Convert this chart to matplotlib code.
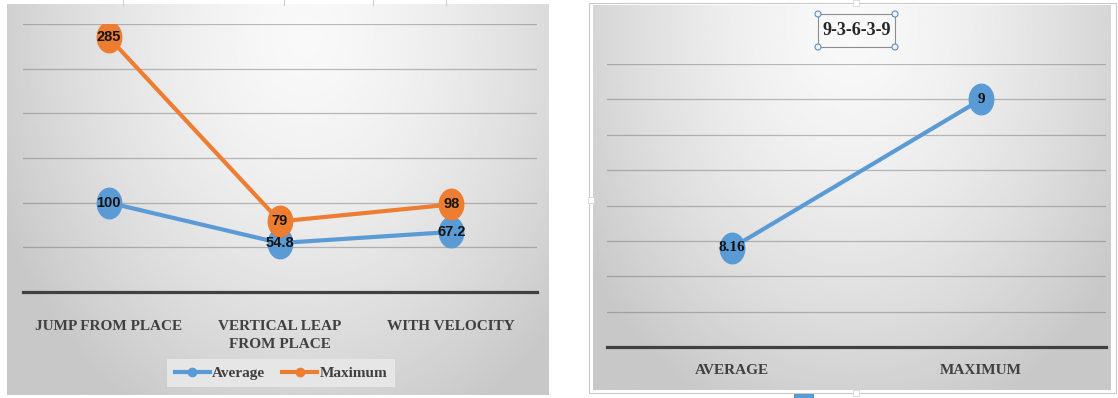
import numpy as np
import matplotlib
matplotlib.use('Agg')
import matplotlib.pyplot as plt
from matplotlib.path import Path
from matplotlib.lines import Line2D
from matplotlib.patches import Rectangle, Circle

# jump test results (left) and score summary (right)
categories = ['JUMP FROM PLACE', 'VERTICAL LEAP\nFROM PLACE', 'WITH VELOCITY']
average = [100, 54.8, 67.2]
maximum = [285, 79, 98]

score_categories = ['AVERAGE', 'MAXIMUM']
score_values = [8.16, 9]
score_title = '9-3-6-3-9'

BLUE = '#5b9bd5'
ORANGE = '#ed7d31'
DARK = '#404040'

W, H = 1118, 398
fig = plt.figure(figsize=(W / 100, H / 100), dpi=100)
fig.patch.set_facecolor('white')


def box(x0, y0, x1, y1):
    # pixel box (top-left origin) -> figure fraction rect
    return [x0 / W, 1 - y1 / H, (x1 - x0) / W, (y1 - y0) / H]


def gradient_panel(rect, cx=0.55, cy=0.08):
    bg = fig.add_axes(rect, zorder=0)
    yy, xx = np.mgrid[0:1:200j, 0:1:300j]
    r = np.sqrt(((xx - cx) / 0.62) ** 2 + ((yy - cy) / 1.1) ** 2)
    val = 0.975 - 0.19 * np.clip(r, 0, 1) ** 1.5
    bg.imshow(val, cmap='gray', vmin=0, vmax=1, aspect='auto',
              extent=[0, 1, 1, 0], interpolation='bilinear')
    bg.set_xlim(0, 1)
    bg.set_ylim(1, 0)
    bg.axis('off')
    return bg


def style_axis(a):
    a.patch.set_alpha(0)
    a.yaxis.grid(True, color='#6e6e6e', alpha=0.45, lw=0.9)
    a.set_axisbelow(True)
    a.tick_params(axis='y', length=0, labelleft=False)
    for s in ['top', 'left', 'right']:
        a.spines[s].set_visible(False)
    a.spines['bottom'].set_color(DARK)
    a.spines['bottom'].set_linewidth(2.3)


# ellipse marker, a bit taller than wide
t = np.linspace(0, 2 * np.pi, 60)
ellipse = Path(np.column_stack([0.8 * np.cos(t), np.sin(t)]), closed=True)

label_font = dict(family='Liberation Sans', fontweight='bold', fontsize=10.5,
                  color='#141414')
serif = dict(family='Liberation Serif', fontweight='bold', color=DARK)

# ---------------- left chart ----------------
gradient_panel(box(7, 4, 549, 395))
ax = fig.add_axes(box(23, 24, 537, 292), zorder=2)
style_axis(ax)
x = np.arange(len(categories))
ax.plot(x, average, color=BLUE, lw=3, marker=ellipse, ms=22,
        solid_capstyle='round', zorder=3)
ax.plot(x, maximum, color=ORANGE, lw=3, marker=ellipse, ms=22,
        solid_capstyle='round', zorder=4)
for i in x:
    ax.text(i, average[i], f'{average[i]:g}', ha='center', va='center',
            zorder=6, **label_font)
    ax.text(i, maximum[i], f'{maximum[i]:g}', ha='center', va='center',
            zorder=6, **label_font)
ax.set_xlim(-0.5, 2.5)
ax.set_ylim(0, 300)
ax.set_yticks([50, 100, 150, 200, 250, 300])
ax.set_xticks(x)
ax.set_xticklabels(categories, fontsize=11, linespacing=1.5, **serif)
ax.tick_params(axis='x', length=0, pad=20)

handles = [Line2D([], [], color=BLUE, lw=3, marker='o', ms=6),
           Line2D([], [], color=ORANGE, lw=3, marker='o', ms=6)]
leg = fig.legend(handles, ['Average', 'Maximum'], loc='center',
                 bbox_to_anchor=(281 / W, 1 - 373 / H), ncol=2,
                 frameon=True, fancybox=False, facecolor='#e6e6e6',
                 edgecolor='none', framealpha=1, handlelength=2.3,
                 handletextpad=0.15, columnspacing=1.1, borderpad=0.5,
                 prop=dict(family='Liberation Serif', weight='bold', size=11))
for txt in leg.get_texts():
    txt.set_color(DARK)
leg.set_zorder(5)

# ---------------- right chart ----------------
gradient_panel(box(593, 5, 1111, 390), cx=0.5, cy=0.05)
ax2 = fig.add_axes(box(607, 64, 1106, 347), zorder=2)
style_axis(ax2)
x2 = np.arange(len(score_categories))
ax2.plot(x2, score_values, color=BLUE, lw=3, marker=ellipse, ms=22,
         solid_capstyle='round', zorder=3)
for i in x2:
    ax2.text(i, score_values[i], f'{score_values[i]:g}', ha='center',
             va='center', fontsize=11, zorder=6,
             family='Liberation Serif', fontweight='bold', color='#111111')
ax2.set_xlim(-0.5, 1.5)
ax2.set_ylim(7.6, 9.2)
ax2.set_yticks([7.8, 8.0, 8.2, 8.4, 8.6, 8.8, 9.0, 9.2])
ax2.set_xticks(x2)
ax2.set_xticklabels(score_categories, fontsize=11, **serif)
ax2.tick_params(axis='x', length=0, pad=12)

# overlay in pixel coordinates for frames and selection handles
ov = fig.add_axes([0, 0, 1, 1], zorder=10)
ov.set_xlim(0, W)
ov.set_ylim(H, 0)
ov.axis('off')
ov.add_patch(Rectangle((589, 3), 527, 390, fill=False, ec='#c9c9c9', lw=0.8))
ov.add_patch(Rectangle((818, 14), 77, 33, fill=False, ec='#8c8c8c', lw=0.8))
ov.text(856.5, 30.5, score_title, ha='center', va='center', fontsize=13,
        family='Liberation Serif', fontweight='bold', color='#262626')
for cx, cy in [(818, 14), (895, 14), (818, 47), (895, 47)]:
    ov.add_patch(Circle((cx, cy), 3, fc='#eef4fa', ec='#5a8ec4', lw=0.8))
for cx, cy in [(591, 200), (856, 3), (856, 393)]:
    ov.add_patch(Rectangle((cx - 3, cy - 3), 6, 6, fc='white', ec='#d0d0d0', lw=0.5))
ov.add_patch(Rectangle((794, 394), 20, 4, fc=BLUE, ec='none'))
for tx in [123, 284, 373, 446]:
    ov.plot([tx, tx], [0, 5], color='#d0d0d0', lw=0.8)

fig.savefig('out.png', dpi=100)
